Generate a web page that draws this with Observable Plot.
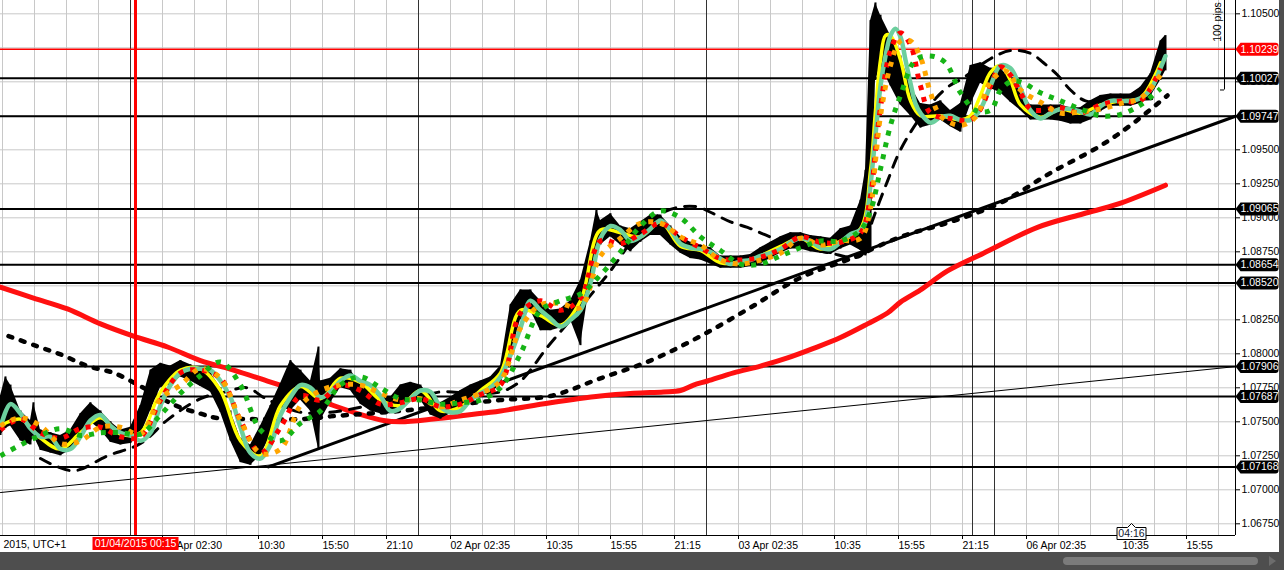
<!DOCTYPE html>
<html><head><meta charset="utf-8">
<script src="https://cdn.jsdelivr.net/npm/d3@7"></script>
<script src="https://cdn.jsdelivr.net/npm/@observablehq/plot@0.6"></script>
<style>
html,body{margin:0;padding:0;background:#4e4e4e;width:1284px;height:570px;overflow:hidden;}
#chart{width:1279px;height:552px;background:#fff;}
#chart svg{display:block;}
#scroll{position:relative;width:1284px;height:18px;background:#4e4e4e;}
#thumb{position:absolute;left:1063px;top:5px;width:195px;height:8px;border-radius:4px;background:#7b7b7b;}
#arrow{position:absolute;left:1269px;top:4px;width:0;height:0;border-top:5px solid transparent;border-bottom:5px solid transparent;border-left:7px solid #6c6c6c;}
</style></head><body>
<div id="chart"></div>
<div id="scroll"><div id="thumb"></div><div id="arrow"></div></div>
<script>
// ---- data (x = 5-minute bar index, y = EUR/USD price) ----
const xDomain = [0, 1235];
const yDomain = [1.06664, 1.10598];
const yTicks = [1.0675,1.07,1.0725,1.075,1.0775,1.08,1.0825,1.085,1.0875,1.09,1.0925,1.095,1.0975,1.1,1.1025,1.105];
const xTickBars = [162,258,322,386,450,546,610,674,738,834,898,962,1026,1122,1186];
const xTickLabels = ["01 Apr 02:30","10:30","15:50","21:10","02 Apr 02:35","10:35","15:55","21:15","03 Apr 02:35","10:35","15:55","21:15","06 Apr 02:35","10:35","15:55"];
const leftAxisLabel = "2015, UTC+1";
const daySeparators = [130, 418, 706, 972, 994];
const cursor = {bar: 135, label: "01/04/2015 00:15"};
const timer = {bar: 1131, label: "04:16"};
const levels = [1.10027, 1.09747, 1.09065, 1.08654, 1.08520, 1.07906, 1.07687, 1.07168];
const redLevel = [1.10239];
const ruler = {bar: 1224, from: 1.0994, pips: 100};
const thickTrend = [[268, 1.07168], [1235, 1.09747]];
const thinTrend = [[0, 1.0698], [1235, 1.07906]];

// price bars sampled: [bar, high, low]
const priceHL = [
[0,1.0769,1.0740],[5,1.0783,1.0745],[10,1.0777,1.0747],[20,1.0758,1.0736],[30,1.0751,1.0733],[33,1.0764,1.0740],
[40,1.0744,1.0729],[50,1.0742,1.0727],[60,1.0740,1.0725],[70,1.0744,1.0729],[80,1.0756,1.0739],[90,1.0764,1.0750],
[100,1.0758,1.0744],[110,1.0750,1.0735],[120,1.0744,1.0733],[130,1.0746,1.0734],[140,1.0762,1.0740],[150,1.0788,1.0758],
[160,1.0793,1.0775],[170,1.0791,1.0777],[180,1.0795,1.0783],[190,1.0792,1.0780],[200,1.0788,1.0776],[210,1.0786,1.0772],
[220,1.0775,1.0757],[230,1.0758,1.0736],[240,1.0738,1.0720],[250,1.0733,1.0718],[260,1.0747,1.0725],[270,1.0762,1.0740],
[280,1.0778,1.0761],[290,1.0795,1.0758],[300,1.0788,1.0766],[310,1.0780,1.0758],[318,1.0805,1.0730],[320,1.0780,1.0751],
[330,1.0782,1.0764],[340,1.0789,1.0775],[350,1.0788,1.0773],[360,1.0778,1.0763],[370,1.0773,1.0758],[380,1.0768,1.0756],
[390,1.0768,1.0756],[400,1.0777,1.0762],[410,1.0779,1.0767],[420,1.0777,1.0766],[430,1.0769,1.0755],[440,1.0764,1.0752],
[450,1.0768,1.0756],[460,1.0773,1.0761],[470,1.0777,1.0765],[480,1.0780,1.0769],[490,1.0783,1.0771],[500,1.0791,1.0777],
[510,1.0836,1.0799],[520,1.0847,1.0825],[530,1.0847,1.0832],[540,1.0839,1.0817],[550,1.0832,1.0817],[560,1.0833,1.0819],
[570,1.0839,1.0825],[580,1.0854,1.0806],[590,1.0883,1.0854],[596,1.0906,1.0880],[600,1.0898,1.0880],[610,1.0903,1.0886],
[620,1.0894,1.0880],[630,1.0892,1.0875],[640,1.0897,1.0882],[650,1.0902,1.0887],[660,1.0902,1.0887],[670,1.0894,1.0880],
[680,1.0886,1.0874],[690,1.0882,1.0870],[700,1.0880,1.0869],[710,1.0878,1.0866],[720,1.0872,1.0863],[730,1.0872,1.0863],
[740,1.0872,1.0863],[750,1.0873,1.0864],[760,1.0878,1.0866],[770,1.0882,1.0870],[780,1.0886,1.0874],[790,1.0889,1.0877],
[800,1.0889,1.0877],[810,1.0887,1.0875],[820,1.0886,1.0874],[830,1.0885,1.0873],[840,1.0892,1.0877],[850,1.0894,1.0880],
[860,1.0913,1.0876],[865,1.0935,1.0872],[870,1.1045,1.0876],[875,1.1058,1.1001],[880,1.1049,1.1012],[890,1.1034,1.0997],
[900,1.1019,1.0983],[910,1.0997,1.0975],[920,1.0984,1.0966],[930,1.0983,1.0968],[940,1.0986,1.0972],[950,1.0979,1.0967],
[960,1.0984,1.0963],[970,1.1012,1.0983],[980,1.1014,1.0999],[990,1.1010,1.0995],[1000,1.1010,1.0992],[1010,1.1002,1.0985],
[1020,1.0994,1.0979],[1030,1.0983,1.0972],[1040,1.0983,1.0972],[1050,1.0983,1.0972],[1060,1.0983,1.0971],[1070,1.0981,1.0969],
[1080,1.0981,1.0969],[1090,1.0986,1.0972],[1100,1.0990,1.0978],[1110,1.0991,1.0982],[1120,1.0991,1.0982],[1130,1.0991,1.0982],
[1140,1.0996,1.0984],[1150,1.1006,1.0989],[1160,1.1030,1.1001],[1165,1.1034,1.1008]
];

const tealMA = [
[0,1.0746],[10,1.0763],[20,1.0756],[30,1.0745],[40,1.0739],[50,1.0739],[60,1.0730],[70,1.0730],[80,1.0739],[90,1.0751],
[100,1.0755],[110,1.0747],[120,1.0742],[130,1.0740],[140,1.0736],[150,1.0742],[160,1.0762],[170,1.0777],[180,1.0786],[190,1.0789],
[200,1.0789],[210,1.0788],[220,1.0780],[230,1.0768],[240,1.0746],[250,1.0727],[260,1.0723],[270,1.0733],[280,1.0755],[290,1.0768],
[300,1.0777],[310,1.0775],[320,1.0768],[330,1.0772],[340,1.0780],[350,1.0784],[360,1.0780],[370,1.0777],[380,1.0769],[390,1.0758],
[400,1.0760],[410,1.0767],[420,1.0773],[430,1.0772],[440,1.0761],[450,1.0757],[460,1.0758],[470,1.0766],[480,1.0771],[490,1.0775],
[500,1.0783],[510,1.0799],[520,1.0819],[530,1.0839],[540,1.0832],[550,1.0826],[560,1.0820],[570,1.0825],[580,1.0832],[590,1.0852],
[600,1.0885],[610,1.0894],[620,1.0891],[630,1.0883],[640,1.0886],[650,1.0892],[660,1.0898],[670,1.0891],[680,1.0881],[690,1.0878],
[700,1.0877],[710,1.0875],[720,1.0870],[730,1.0866],[740,1.0868],[750,1.0869],[760,1.0872],[770,1.0874],[780,1.0877],[790,1.0882],
[800,1.0885],[810,1.0883],[820,1.0878],[830,1.0877],[840,1.0882],[850,1.0888],[860,1.0891],[865,1.0897],[870,1.0924],[875,1.0961],
[880,1.0997],[885,1.1019],[890,1.1034],[895,1.1039],[900,1.1033],[905,1.1016],[910,1.0999],[915,1.0984],[920,1.0977],[930,1.0970],
[940,1.0974],[950,1.0975],[960,1.0972],[970,1.0972],[980,1.0980],[990,1.0997],[1000,1.1012],[1010,1.1010],[1020,1.0995],[1030,1.0979],
[1040,1.0973],[1050,1.0977],[1060,1.0980],[1070,1.0980],[1080,1.0978],[1090,1.0976],[1100,1.0982],[1110,1.0986],[1120,1.0986],[1130,1.0986],
[1140,1.0988],[1150,1.0994],[1160,1.1010],[1165,1.1019]
];

const yellowMA = [
[0,1.0747],[20,1.0752],[40,1.0738],[60,1.0730],[80,1.0742],[100,1.0753],[120,1.0741],[140,1.0742],[160,1.0772],[180,1.0788],
[200,1.0789],[220,1.0773],[240,1.0736],[260,1.0725],[280,1.0762],[300,1.0776],[320,1.0767],[340,1.0782],[360,1.0779],[380,1.0766],
[400,1.0762],[420,1.0773],[440,1.0758],[460,1.0761],[480,1.0773],[500,1.0786],[520,1.0832],[540,1.0828],[560,1.0821],[580,1.0839],
[600,1.0891],[620,1.0889],[640,1.0886],[660,1.0897],[680,1.0879],[700,1.0876],[720,1.0867],[740,1.0867],[760,1.0872],[780,1.0879],
[800,1.0885],[820,1.0877],[840,1.0883],[860,1.0892],[870,1.0935],[875,1.0979],[880,1.1016],[885,1.1034],[890,1.1034],[900,1.1016],
[910,1.0986],[920,1.0975],[940,1.0975],[960,1.0972],[970,1.0975],[980,1.0990],[990,1.1007],[1000,1.1012],[1010,1.1001],[1020,1.0983],
[1040,1.0974],[1060,1.0980],[1080,1.0977],[1100,1.0983],[1120,1.0986],[1140,1.0988],[1160,1.1014]
];

const redDots = [
[0,1.0744],[20,1.0752],[40,1.0742],[60,1.0738],[80,1.0745],[100,1.0746],[120,1.0739],[140,1.0739],[160,1.0766],[180,1.0786],
[200,1.0788],[220,1.0782],[240,1.0751],[260,1.0727],[280,1.0746],[300,1.0769],[320,1.0766],[340,1.0777],[360,1.0773],[380,1.0763],
[400,1.0764],[420,1.0767],[440,1.0761],[460,1.0763],[480,1.0770],[500,1.0777],[520,1.0830],[540,1.0839],[560,1.0832],[580,1.0841],
[600,1.0883],[620,1.0881],[640,1.0888],[660,1.0896],[680,1.0886],[700,1.0878],[720,1.0870],[740,1.0869],[760,1.0871],[780,1.0877],
[800,1.0886],[820,1.0882],[840,1.0882],[860,1.0889],[870,1.0916],[875,1.0950],[880,1.0981],[890,1.1023],[900,1.1036],[910,1.1027],
[920,1.0997],[930,1.0977],[950,1.0973],[970,1.0972],[980,1.0980],[990,1.0997],[1000,1.1011],[1010,1.1005],[1020,1.0992],[1030,1.0980],
[1040,1.0979],[1060,1.0981],[1080,1.0977],[1100,1.0983],[1120,1.0986],[1140,1.0986],[1160,1.1010]
];

const orangeDots = [
[0,1.0747],[20,1.0753],[40,1.0747],[60,1.0734],[80,1.0736],[100,1.0746],[120,1.0746],[140,1.0741],[160,1.0767],[180,1.0777],
[200,1.0789],[220,1.0782],[240,1.0751],[260,1.0727],[280,1.0730],[300,1.0762],[320,1.0773],[340,1.0777],[360,1.0777],[380,1.0771],
[400,1.0766],[420,1.0767],[440,1.0761],[460,1.0766],[480,1.0771],[500,1.0780],[520,1.0819],[540,1.0836],[560,1.0837],[580,1.0834],
[600,1.0872],[620,1.0885],[640,1.0896],[660,1.0896],[680,1.0886],[700,1.0880],[720,1.0869],[740,1.0866],[760,1.0869],[780,1.0874],
[800,1.0885],[820,1.0880],[840,1.0883],[860,1.0885],[870,1.0907],[875,1.0942],[880,1.0975],[890,1.1012],[900,1.1030],[910,1.1030],
[920,1.1018],[930,1.0992],[940,1.0975],[960,1.0968],[975,1.0974],[990,1.1000],[1005,1.1008],[1020,1.0994],[1040,1.0985],[1060,1.0977],
[1080,1.0978],[1100,1.0980],[1120,1.0984],[1140,1.0988],[1160,1.1005]
];

const greenDots = [
[0,1.0725],[20,1.0733],[40,1.0740],[60,1.0745],[80,1.0740],[100,1.0742],[120,1.0742],[140,1.0741],[160,1.0755],[180,1.0771],
[200,1.0784],[220,1.0794],[240,1.0777],[260,1.0744],[280,1.0736],[300,1.0749],[320,1.0758],[340,1.0777],[360,1.0783],[380,1.0775],
[400,1.0767],[420,1.0766],[440,1.0763],[460,1.0764],[480,1.0766],[500,1.0775],[520,1.0800],[540,1.0832],[560,1.0839],[580,1.0844],
[600,1.0858],[620,1.0875],[640,1.0894],[660,1.0905],[680,1.0900],[700,1.0886],[720,1.0876],[740,1.0866],[760,1.0866],[780,1.0872],
[800,1.0878],[820,1.0883],[840,1.0883],[860,1.0891],[870,1.0905],[880,1.0936],[890,1.0968],[900,1.0990],[915,1.1016],[930,1.1019],
[945,1.1014],[960,1.0992],[975,1.0979],[990,1.0979],[1000,1.0994],[1010,1.1000],[1020,1.1000],[1040,1.0992],[1060,1.0986],[1080,1.0980],
[1100,1.0975],[1120,1.0976],[1140,1.0983],[1160,1.0995]
];

const blackDottedMA = [
[8,1.0813],[35,1.0806],[62,1.0799],[87,1.0791],[113,1.0786],[138,1.0777],[150,1.0772],[175,1.0762],[200,1.0756],[215,1.0753],
[250,1.0752],[300,1.0752],[330,1.0754],[400,1.0758],[450,1.0762],[500,1.0766],[550,1.0769],[600,1.0782],[650,1.0795],[700,1.0813],
[750,1.0834],[800,1.0856],[850,1.0870],[900,1.0886],[950,1.0897],[1000,1.0911],[1050,1.0933],[1100,1.0953],[1130,1.0968],[1167,1.0990]
];

const blackDashedMA = [
[40,1.0723],[73,1.0714],[107,1.0725],[140,1.0734],[168,1.0752],[200,1.0767],[225,1.0772],[247,1.0775],[263,1.0768],[280,1.0762],
[300,1.0757],[330,1.0757],[370,1.0762],[410,1.0766],[440,1.0772],[470,1.0771],[500,1.0772],[520,1.0780],[547,1.0805],[570,1.0825],
[590,1.0843],[610,1.0861],[640,1.0891],[663,1.0904],[680,1.0908],[697,1.0908],[713,1.0903],[730,1.0897],[747,1.0893],[763,1.0888],
[780,1.0883],[800,1.0880],[830,1.0874],[860,1.0872],[872,1.0898],[887,1.0927],[900,1.0950],[925,1.0979],[947,1.0996],[963,1.1003],
[990,1.1017],[1010,1.1023],[1030,1.1021],[1043,1.1014],[1057,1.1005],[1070,1.0994],[1085,1.0986],[1110,1.0986],[1160,1.0988]
];

const redSlowMA = [
[0,1.0849],[33,1.0841],[67,1.0833],[100,1.0822],[133,1.0813],[167,1.0805],[200,1.0795],[233,1.0788],[267,1.0780],[300,1.0772],
[333,1.0762],[383,1.0751],[400,1.0750],[433,1.0752],[467,1.0755],[500,1.0758],[550,1.0764],[600,1.0769],[633,1.0771],[663,1.0772],
[680,1.0773],[693,1.0777],[707,1.0780],[733,1.0786],[760,1.0791],[787,1.0797],[813,1.0804],[840,1.0812],[867,1.0822],[887,1.0830],
[900,1.0838],[920,1.0847],[947,1.0861],[983,1.0874],[1037,1.0893],[1083,1.0903],[1117,1.0910],[1165,1.0924]
];

// ---- drawing ----
const FONT = "'Liberation Sans', Arial, sans-serif";
const pts = arr => arr.map(([bar, price]) => ({bar, price}));
const priceRows = priceHL.map(([bar, high, low]) => ({bar, high, low}));
const tickLabel = new Map(xTickBars.map((b, i) => [b, xTickLabels[i]]));
const gridBars = d3.range(2, xDomain[1], 32);
const allLevels = levels.concat(redLevel);
// axis labels that sit completely under a level tag are hidden, as in the terminal
const yTicksShown = yTicks.filter(t => !allLevels.some(l => Math.abs(l - t) < 0.00025));
const ma = (arr, opts) => Plot.line(pts(arr), {x: "bar", y: "price", curve: "catmull-rom", ...opts});
const dotted = {strokeDasharray: "5,7", strokeWidth: 5, strokeLinecap: "butt"};
const tagText = {fontSize: 10.5, textAnchor: "middle", lineAnchor: "middle"};

// label shapes (custom dot symbols)
const levelTag = {draw(ctx) {
  const h = 6.5, w = 43, r = 3, p = 5;
  ctx.moveTo(0, 0); ctx.lineTo(p, -h); ctx.lineTo(w - r, -h);
  ctx.arcTo(w, -h, w, -h + r, r); ctx.lineTo(w, h - r);
  ctx.arcTo(w, h, w - r, h, r); ctx.lineTo(p, h); ctx.closePath();
}};
const dateTag = {draw(ctx) {
  ctx.moveTo(-43, -6.5); ctx.lineTo(43, -6.5); ctx.lineTo(43, 6.5); ctx.lineTo(-43, 6.5); ctx.closePath();
}};
const timerTag = {draw(ctx) {
  ctx.moveTo(-14.5, -6); ctx.lineTo(-4, -6); ctx.lineTo(0, -10); ctx.lineTo(4, -6); ctx.lineTo(14.5, -6);
  ctx.lineTo(14.5, 6); ctx.lineTo(-14.5, 6); ctx.closePath();
}};

const chart = Plot.plot({
  width: 1279, height: 552,
  marginLeft: 0, marginRight: 44, marginTop: 0, marginBottom: 17,
  style: {fontFamily: FONT, fontSize: "10.5px", background: "white", color: "black", overflow: "visible"},
  x: {domain: xDomain, axis: null, label: null},
  y: {domain: yDomain, axis: null, label: null},
  marks: [
    Plot.gridY(yTicks, {stroke: "#c8c8c8", strokeOpacity: 1}),
    Plot.gridX(gridBars, {stroke: "#c8c8c8", strokeOpacity: 1}),
    Plot.ruleX(daySeparators, {stroke: "#333", strokeWidth: 1}),
    Plot.ruleY(levels, {stroke: "black", strokeWidth: 2}),
    Plot.ruleY(redLevel, {stroke: "#ff0000", strokeWidth: 1.5}),
    Plot.line(pts(thinTrend), {x: "bar", y: "price", stroke: "black", strokeWidth: 1}),
    Plot.line(pts(thickTrend), {x: "bar", y: "price", stroke: "black", strokeWidth: 3}),
    ma(redSlowMA, {stroke: "#ff1010", strokeWidth: 5}),
    ma(blackDottedMA, {stroke: "black", strokeWidth: 4.5, strokeDasharray: "4,9"}),
    ma(blackDashedMA, {stroke: "black", strokeWidth: 3, strokeDasharray: "11,9"}),
    Plot.areaY(priceRows, {x: "bar", y1: "low", y2: "high", fill: "black"}),
    Plot.ruleX(priceRows, {x: "bar", y1: "low", y2: "high", stroke: "black", strokeWidth: 2}),
    ma(yellowMA, {stroke: "#ffff00", strokeWidth: 3.5}),
    ma(tealMA, {stroke: "#6ccf9e", strokeWidth: 4.5}),
    ma(redDots, {stroke: "#ff0000", ...dotted}),
    ma(orangeDots, {stroke: "#ffa500", ...dotted}),
    ma(greenDots, {stroke: "#16b416", ...dotted}),
    Plot.ruleX([cursor], {x: "bar", stroke: "#ff0000", strokeWidth: 3}),
    Plot.ruleX([xDomain[1]], {stroke: "black"}),
    Plot.ruleY([yDomain[0]], {stroke: "black"}),
    Plot.axisY(yTicksShown, {anchor: "right", tickFormat: d => d.toFixed(5), tickSize: 4, tickPadding: 2, fontSize: 10.5, label: null}),
    Plot.axisX(xTickBars, {anchor: "bottom", tickFormat: d => tickLabel.get(d), textAnchor: "start", tickSize: 4, tickPadding: 2, fontSize: 10.5, label: null}),
    Plot.text([leftAxisLabel], {frameAnchor: "bottom-left", text: d => d, dx: 3, dy: 9, textAnchor: "start", lineAnchor: "middle", fontSize: 10.5}),
    Plot.ruleX([ruler], {x: "bar", y1: "from", y2: d => d.from + d.pips * 0.0001, stroke: "black", clip: true}),
    Plot.ruleY([ruler], {y: "from", x1: d => d.bar - 4, x2: "bar", stroke: "black"}),
    Plot.text([ruler], {x: d => d.bar - 7, y: d => d.from + d.pips * 0.0001 / 2, text: d => `${d.pips} pips`, rotate: -90, fontSize: 10.5}),
    // price tags on the right axis
    Plot.dot(levels, {y: d => d, frameAnchor: "right", symbol: levelTag, fill: "black", stroke: "none"}),
    Plot.dot(redLevel, {y: d => d, frameAnchor: "right", symbol: levelTag, fill: "#ff0000", stroke: "none"}),
    Plot.text(allLevels, {y: d => d, frameAnchor: "right", dx: 24, text: d => d.toFixed(5), fill: "white", ...tagText}),
    // cursor date tag and bar timer on the time axis
    Plot.dot([cursor], {x: "bar", frameAnchor: "bottom", dy: 8, symbol: dateTag, fill: "#ff0000", stroke: "none"}),
    Plot.text([cursor], {x: "bar", frameAnchor: "bottom", dy: 8, text: "label", fill: "white", ...tagText}),
    Plot.dot([timer], {x: "bar", frameAnchor: "bottom", dy: -2, symbol: timerTag, fill: "white", stroke: "black", strokeWidth: 1}),
    Plot.text([timer], {x: "bar", frameAnchor: "bottom", dy: -2, text: "label", fill: "#101830", ...tagText})
  ]
});
document.getElementById("chart").appendChild(chart);
</script>
</body></html>
